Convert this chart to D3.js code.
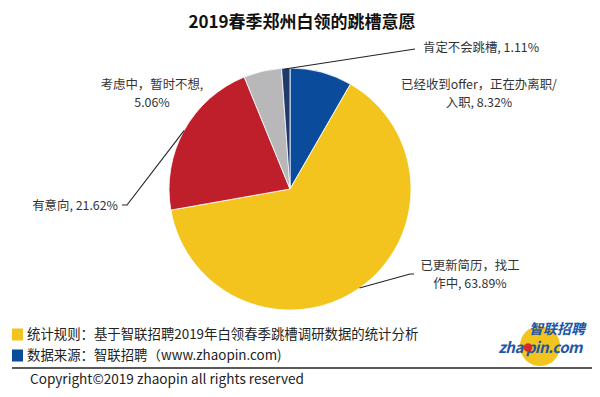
<!DOCTYPE html>
<html><head><meta charset="utf-8">
<script src="https://cdn.jsdelivr.net/npm/d3@7"></script>
<style>body{margin:0;background:#fff}svg{display:block}text{font-family:"Noto Sans CJK SC","Noto Sans",sans-serif}</style>
</head><body><svg id="c" width="600" height="397"></svg>
<script>
const categories = ["已经收到offer，正在办离职/入职","已更新简历，找工作中","有意向","考虑中，暂时不想","肯定不会跳槽"];
const values = [8.32, 63.89, 21.62, 5.06, 1.11];
const colors = ["#0b4b9b","#f2c41d","#bf1e2b","#b8b8ba","#1f3a6b"];
const labelLines = [["已经收到offer，正在办离职/","入职, 8.32%"],["已更新简历，找工","作中, 63.89%"],["有意向, 21.62%"],["考虑中，暂时不想,","5.06%"],["肯定不会跳槽, 1.11%"]];
const title = "2019春季郑州白领的跳槽意愿";
const notes = ["统计规则：基于智联招聘2019年白领春季跳槽调研数据的统计分析","数据来源：智联招聘（www.zhaopin.com)"];
const noteColors = ["#f2c41d","#0b4b9b"];
const copyright = "Copyright©2019 zhaopin all rights reserved";

const svg = d3.select("#c");
const cx = 290, cy = 189, r = 121;
svg.append("text").attr("x",302).attr("y",28).attr("text-anchor","middle")
  .attr("font-size",17).attr("font-weight","bold").attr("fill","#111").text(title);

const pie = d3.pie().sort(null).value(d=>d)(values);
const arc = d3.arc().innerRadius(0).outerRadius(r);
const g = svg.append("g").attr("transform",`translate(${cx},${cy})`);
g.selectAll("path").data(pie).join("path").attr("d",arc)
  .attr("fill",(d,i)=>colors[i]).attr("stroke","#fff").attr("stroke-width",0.8);

const labelPos = [
  {x:479,y:88.5,anchor:"middle"},
  {x:470,y:269.5,anchor:"middle"},
  {x:118,y:210,anchor:"end"},
  {x:152,y:88.5,anchor:"middle"},
  {x:423,y:52,anchor:"start"}
];
const edge = (d, k=1) => { const a=(d.startAngle+d.endAngle)/2; return [cx+Math.sin(a)*r*k, cy-Math.cos(a)*r*k]; };
const leaders = {
  1: p => [p, [410,274], [414,274]],
  2: p => [[122,205],[127,205], p],
  4: p => [[285,69], [415,49]]
};
const line = d3.line();
Object.keys(leaders).forEach(k=>{
  const p = edge(pie[k]);
  svg.append("path").attr("d",line(leaders[k](p))).attr("fill","none").attr("stroke","#222").attr("stroke-width",1.1);
});
labelLines.forEach((ls,i)=>{
  const lp = labelPos[i];
  ls.forEach((s,j)=>svg.append("text").attr("font-size",12.4).attr("fill","#333").attr("text-anchor",lp.anchor)
    .attr("x",lp.x).attr("y",lp.y+j*18).text(s));
});

notes.forEach((s,i)=>{
  const y = 334 + i*21;
  svg.append("rect").attr("x",12).attr("y",y-5.5).attr("width",11).attr("height",12).attr("fill",noteColors[i]);
  svg.append("text").attr("x",27).attr("y",y+4.5).attr("font-size",13.4).attr("fill","#222").text(s);
});
svg.append("line").attr("x1",12).attr("x2",592).attr("y1",368).attr("y2",368).attr("stroke","#222").attr("stroke-width",1.3);
svg.append("text").attr("x",30).attr("y",384).attr("font-size",13.6).attr("fill","#222").text(copyright);

const lg = svg.append("g");
lg.append("circle").attr("cx",540).attr("cy",346).attr("r",20).attr("fill","#f2c41d");
lg.append("text").attr("x",585).attr("y",334).attr("text-anchor","end").attr("font-size",14).attr("font-weight","bold")
  .attr("font-style","italic").attr("fill","#1d56a8").text("智联招聘");
lg.append("text").attr("x",582).attr("y",353).attr("text-anchor","end").attr("font-size",15).attr("font-weight","bold")
  .attr("font-style","italic").attr("fill","#1d56a8").attr("font-family","DejaVu Sans, sans-serif").attr("letter-spacing",-0.5).text("zha pin.com");
lg.append("circle").attr("cx",528).attr("cy",347.5).attr("r",4.3).attr("fill","#d42a2a");
</script></body></html>
